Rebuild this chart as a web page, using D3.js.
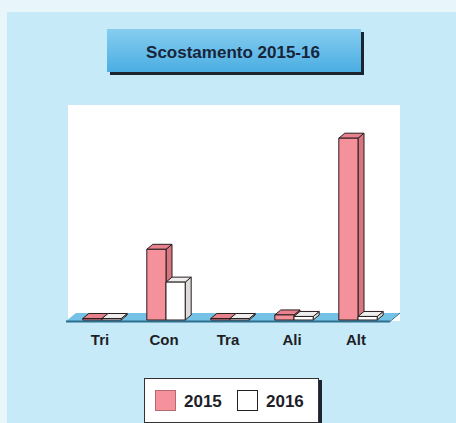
<!DOCTYPE html>
<html><head><meta charset="utf-8">
<script src="https://cdn.jsdelivr.net/npm/d3@7"></script>
<style>html,body{margin:0;padding:0;background:#e8f6fb;}svg{display:block;}</style>
</head><body>
<script>
const categories = ["Tri", "Con", "Tra", "Ali", "Alt"];
const series = ["2015", "2016"];
const values2015 = [0.4, 28, 0.3, 2.0, 72];
const values2016 = [0.4, 15, 0.3, 1.4, 1.4];
const title = "Scostamento 2015-16";

const W = 456, H = 423;
const svg = d3.select("body").append("svg").attr("width", W).attr("height", H);
svg.append("rect").attr("x", 7).attr("y", 12).attr("width", W - 7).attr("height", H - 12).attr("fill", "#c6eaf7");

// plot area
svg.append("rect").attr("x", 68).attr("y", 105).attr("width", 332).attr("height", 216).attr("fill", "#ffffff");

const baseY = 320;
const x = d3.scaleBand().domain(categories).range([70, 390]).paddingInner(0.4).paddingOuter(0.2);
const xs = d3.scaleBand().domain(series).range([0, x.bandwidth()]);
const y = d3.scaleLinear().domain([0, 80]).range([baseY, baseY - 202]);
const dx = 6, dy = 5;

// floor
const fl = [[66, 321], [390, 321], [400, 313], [76, 313]];
svg.append("path").attr("d", d3.line()(fl) + "Z").attr("fill", "#74c2e6");
svg.append("line").attr("x1", 66).attr("x2", 390).attr("y1", 321.5).attr("y2", 321.5).attr("stroke", "#2d6f8e").attr("stroke-width", 2);
svg.append("line").attr("x1", 390).attr("x2", 400).attr("y1", 321.5).attr("y2", 313).attr("stroke", "#2d6f8e").attr("stroke-width", 1);

const styles = {
  "2015": {front: "#f4919b", top: "#e5828d", side: "#d77680"},
  "2016": {front: "#ffffff", top: "#eeeeee", side: "#dcdcdc"}
};
const data = [];
categories.forEach((c, i) => {
  data.push({cat: c, s: "2015", v: values2015[i]});
  data.push({cat: c, s: "2016", v: values2016[i]});
});
const g = svg.append("g");
data.forEach(d => {
  const x0 = x(d.cat) + xs(d.s), w = xs.bandwidth();
  const yt = Math.min(y(d.v), baseY - 1.5), yb = baseY;
  const st = styles[d.s];
  const b = g.append("g").attr("stroke", "#2a1e1e").attr("stroke-width", 1).attr("stroke-linejoin", "round");
  b.append("path").attr("d", d3.line()([[x0 + w, yb], [x0 + w + dx, yb - dy], [x0 + w + dx, yt - dy], [x0 + w, yt]]) + "Z").attr("fill", st.side);
  b.append("path").attr("d", d3.line()([[x0, yt], [x0 + w, yt], [x0 + w + dx, yt - dy], [x0 + dx, yt - dy]]) + "Z").attr("fill", st.top);
  b.append("rect").attr("x", x0).attr("y", yt).attr("width", w).attr("height", yb - yt).attr("fill", st.front);
});

// category labels
svg.append("g").selectAll("text").data(categories).join("text")
  .attr("x", d => x(d) + x.bandwidth() / 2 - 2).attr("y", 345)
  .attr("text-anchor", "middle").attr("font-family", "Liberation Sans, Arial, sans-serif")
  .attr("font-weight", "bold").attr("font-size", 15).attr("fill", "#1e1e28").text(d => d);

// title box
svg.append("rect").attr("x", 110).attr("y", 32).attr("width", 254).attr("height", 43).attr("fill", "#1c2430");
const tg = svg.append("defs").append("linearGradient").attr("id", "tg").attr("x1", 0).attr("y1", 0).attr("x2", 0).attr("y2", 1);
tg.append("stop").attr("offset", 0).attr("stop-color", "#86cdf0");
tg.append("stop").attr("offset", 1).attr("stop-color", "#4aaee2");
svg.append("rect").attr("x", 107).attr("y", 29).attr("width", 254).attr("height", 43).attr("fill", "url(#tg)");
svg.append("text").attr("x", 233).attr("y", 58).attr("text-anchor", "middle")
  .attr("font-family", "Liberation Sans, Arial, sans-serif").attr("font-weight", "bold")
  .attr("font-size", 17).attr("fill", "#18243a").text(title);

// legend
svg.append("rect").attr("x", 146).attr("y", 380).attr("width", 176).attr("height", 44).attr("fill", "#1c2430");
svg.append("rect").attr("x", 144.5).attr("y", 378.5).attr("width", 174).attr("height", 44).attr("fill", "#ffffff").attr("stroke", "#333").attr("stroke-width", 1);
const lx = [155, 237];
series.forEach((s, i) => {
  svg.append("rect").attr("x", lx[i] + 0.5).attr("y", 390.5).attr("width", 20).attr("height", 20)
    .attr("fill", styles[s].front).attr("stroke", i === 0 ? "#b56a72" : "#222").attr("stroke-width", 1);
  svg.append("text").attr("x", lx[i] + 29).attr("y", 407)
    .attr("font-family", "Liberation Sans, Arial, sans-serif").attr("font-weight", "bold")
    .attr("font-size", 17).attr("fill", "#1e1e28").text(s);
});
</script>
</body></html>
